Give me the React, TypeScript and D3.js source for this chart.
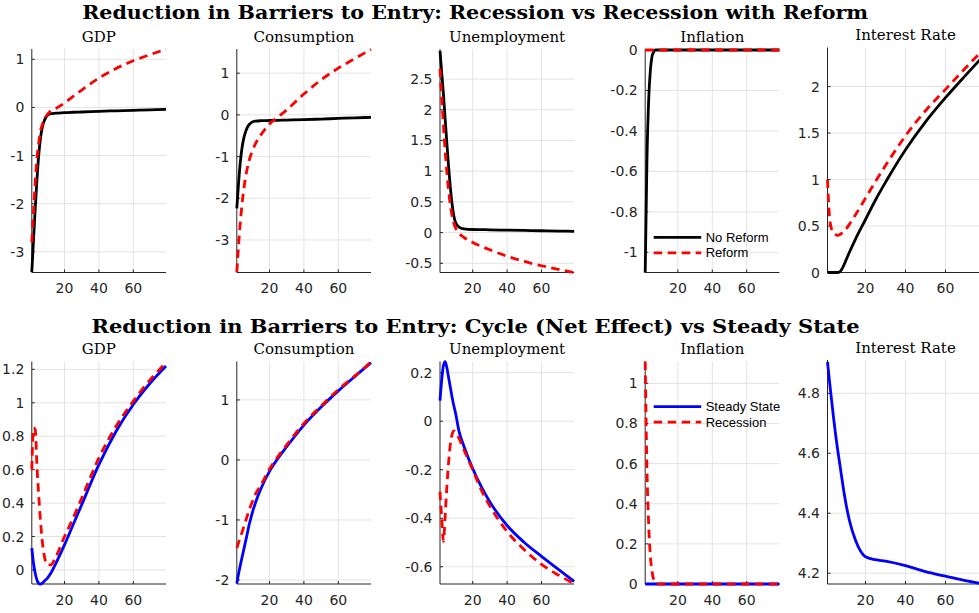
import React from "react";
import * as d3 from "d3";

// ---------- data ----------
const T = [1, 2, 3, 4, 5, 6, 7, 8, 9, 10, 12, 15, 20, 25, 30, 40, 50, 60, 70, 79];
const xDomain = [1, 79];
const xTicks = [20, 40, 60];

const mainTitles = [
  "Reduction in Barriers to Entry: Recession vs Recession with Reform",
  "Reduction in Barriers to Entry: Cycle (Net Effect) vs Steady State",
];
const panelTitles = ["GDP", "Consumption", "Unemployment", "Inflation", "Interest Rate"];

// top row: No Reform (black) vs Reform (red dashed)
const gdpNoReform = [-3.42, -2.75, -2.1, -1.5, -1.0, -0.65, -0.43, -0.3, -0.22, -0.17, -0.13, -0.12, -0.11, -0.1, -0.095, -0.08, -0.07, -0.06, -0.05, -0.04];
const gdpReform = [-2.8, -2.15, -1.55, -1.05, -0.75, -0.5, -0.37, -0.27, -0.2, -0.15, -0.07, -0.02, 0.09, 0.23, 0.36, 0.61, 0.81, 0.97, 1.1, 1.21];
const consNoReform = [-2.24, -1.65, -1.15, -0.8, -0.57, -0.42, -0.31, -0.24, -0.2, -0.17, -0.15, -0.14, -0.135, -0.13, -0.125, -0.115, -0.1, -0.085, -0.07, -0.06];
const consReform = [-3.77, -3.15, -2.6, -2.15, -1.8, -1.52, -1.3, -1.12, -0.98, -0.87, -0.68, -0.48, -0.22, -0.05, 0.12, 0.5, 0.84, 1.12, 1.36, 1.57];
const unempNoReform = [2.96, 2.6, 2.25, 1.85, 1.45, 1.07, 0.74, 0.47, 0.28, 0.17, 0.09, 0.06, 0.05, 0.048, 0.045, 0.04, 0.035, 0.03, 0.025, 0.02];
const unempReform = [2.67, 2.2, 1.75, 1.33, 0.98, 0.68, 0.45, 0.28, 0.16, 0.08, -0.01, -0.08, -0.16, -0.225, -0.28, -0.385, -0.47, -0.54, -0.6, -0.65];
const inflNoReform = [-1.1, -0.55, -0.25, -0.1, -0.03, -0.008, 0, 0, 0, 0, 0, 0, 0, 0, 0, 0, 0, 0, 0, 0];
const inflReform = [0, 0, 0, 0, 0, 0, 0, 0, 0, 0, 0, 0, 0, 0, 0, 0, 0, 0, 0, 0];
const rateNoReform = [0, 0, 0, 0, 0, 0, 0.005, 0.03, 0.07, 0.12, 0.22, 0.36, 0.57, 0.78, 0.97, 1.32, 1.62, 1.88, 2.12, 2.33];
const rateReform = [1.0, 0.6, 0.47, 0.43, 0.41, 0.4, 0.405, 0.42, 0.44, 0.46, 0.52, 0.62, 0.8, 0.98, 1.15, 1.47, 1.74, 1.97, 2.2, 2.4];

// bottom row: Steady State (blue) vs Recession (red dashed)
const gdpSteady = [0.13, 0.04, -0.02, -0.06, -0.08, -0.085, -0.08, -0.07, -0.06, -0.05, -0.02, 0.04, 0.15, 0.27, 0.39, 0.63, 0.83, 0.99, 1.12, 1.22];
const gdpRecession = [0.6, 0.85, 0.84, 0.62, 0.45, 0.3, 0.18, 0.1, 0.05, 0.03, 0.03, 0.08, 0.2, 0.31, 0.43, 0.67, 0.86, 1.01, 1.14, 1.24];
const consSteady = [-2.06, -1.9, -1.76, -1.63, -1.5, -1.37, -1.24, -1.1, -0.99, -0.88, -0.7, -0.48, -0.19, 0.03, 0.22, 0.58, 0.88, 1.15, 1.4, 1.62];
const consRecession = [-1.47, -1.38, -1.3, -1.21, -1.12, -1.03, -0.94, -0.85, -0.77, -0.7, -0.56, -0.42, -0.15, 0.06, 0.25, 0.61, 0.9, 1.17, 1.41, 1.63];
const unempSteady = [0.085, 0.17, 0.23, 0.245, 0.22, 0.18, 0.14, 0.1, 0.065, 0.035, -0.04, -0.105, -0.195, -0.27, -0.333, -0.43, -0.5, -0.557, -0.612, -0.66];
const unempRecession = [-0.29, -0.4, -0.495, -0.39, -0.27, -0.17, -0.095, -0.055, -0.04, -0.045, -0.07, -0.12, -0.2, -0.283, -0.35, -0.455, -0.53, -0.59, -0.635, -0.67];
const inflSteady = [0, 0, 0, 0, 0, 0, 0, 0, 0, 0, 0, 0, 0, 0, 0, 0, 0, 0, 0, 0];
const inflRecession = [1.109, 0.58, 0.3, 0.14, 0.06, 0.02, 0.005, 0, 0, 0, 0, 0, 0, 0, 0, 0, 0, 0, 0, 0];
const rateSteady = [4.905, 4.84, 4.78, 4.72, 4.665, 4.615, 4.57, 4.525, 4.48, 4.44, 4.375, 4.31, 4.255, 4.245, 4.24, 4.225, 4.205, 4.19, 4.175, 4.164];

// axes limits and ticks
const topDomains = [[-3.43, 1.214], [-3.78, 1.58], [-0.65, 2.99], [-1.1, 0.005], [0, 2.42]];
const topTicks = [[-3, -2, -1, 0, 1], [-3, -2, -1, 0, 1], [-0.5, 0, 0.5, 1, 1.5, 2, 2.5], [-1, -0.8, -0.6, -0.4, -0.2, 0], [0, 0.5, 1, 1.5, 2]];
const botDomains = [[-0.084, 1.247], [-2.067, 1.64], [-0.671, 0.246], [0, 1.109], [4.164, 4.911]];
const botTicks = [[0, 0.2, 0.4, 0.6, 0.8, 1, 1.2], [-2, -1, 0, 1], [-0.6, -0.4, -0.2, 0, 0.2], [0, 0.2, 0.4, 0.6, 0.8, 1], [4.2, 4.4, 4.6, 4.8]];

const topLegend = ["No Reform", "Reform"];
const botLegend = ["Steady State", "Recession"];

// ---------- layout ----------
const W = 979;
const H = 613;
const panelX = [31.8, 236.8, 440, 645.2, 827.5];
const panelW = [134.2, 134.2, 134.2, 134.2, 156];
const rows = [
  { tops: [49, 49, 49, 49, 47.5], bottom: 272.5, titleY: 18.5 },
  { tops: [361.5, 361.5, 361.5, 361.5, 360], bottom: 584, titleY: 333 },
];

const BLACK = "#000000";
const RED = "#ff0000";
const BLUE = "#0000ff";
const GRID = "#e3e3e3";
const AXIS = "#262626";

type Series = { values: number[]; color: string; dashed: boolean };

const topSeries: Series[][] = [
  [{ values: gdpNoReform, color: BLACK, dashed: false }, { values: gdpReform, color: RED, dashed: true }],
  [{ values: consNoReform, color: BLACK, dashed: false }, { values: consReform, color: RED, dashed: true }],
  [{ values: unempNoReform, color: BLACK, dashed: false }, { values: unempReform, color: RED, dashed: true }],
  [{ values: inflNoReform, color: BLACK, dashed: false }, { values: inflReform, color: RED, dashed: true }],
  [{ values: rateNoReform, color: BLACK, dashed: false }, { values: rateReform, color: RED, dashed: true }],
];
const botSeries: Series[][] = [
  [{ values: gdpSteady, color: BLUE, dashed: false }, { values: gdpRecession, color: RED, dashed: true }],
  [{ values: consSteady, color: BLUE, dashed: false }, { values: consRecession, color: RED, dashed: true }],
  [{ values: unempSteady, color: BLUE, dashed: false }, { values: unempRecession, color: RED, dashed: true }],
  [{ values: inflSteady, color: BLUE, dashed: false }, { values: inflRecession, color: RED, dashed: true }],
  [{ values: rateSteady, color: BLUE, dashed: false }],
];

function Panel(props: {
  i: number;
  top: number;
  bottom: number;
  title: string;
  domain: number[];
  ticks: number[];
  series: Series[];
  legend?: { labels: string[]; colors: string[]; y0: number };
}) {
  const { i, top, bottom, title, domain, ticks, series, legend } = props;
  const x0 = panelX[i];
  const x1 = x0 + panelW[i];
  const xs = d3.scaleLinear().domain(xDomain).range([x0, x1]);
  const ys = d3.scaleLinear().domain(domain).range([bottom, top]);
  const line = d3
    .line<[number, number]>()
    .x((d) => xs(d[0]))
    .y((d) => ys(d[1]))
    .curve(d3.curveMonotoneX);
  const tick = 3;
  return (
    <g>
      <text
        x={(x0 + x1) / 2}
        y={top - 7.5}
        textAnchor="middle"
        fontFamily="DejaVu Serif"
        fontSize={15}
        fill="#000"
      >
        {title}
      </text>
      {/* grid */}
      {xTicks.map((t) => (
        <line key={"gx" + t} x1={xs(t)} x2={xs(t)} y1={top} y2={bottom} stroke={GRID} strokeWidth={1} />
      ))}
      {ticks.map((t) => (
        <line key={"gy" + t} x1={x0} x2={x1} y1={ys(t)} y2={ys(t)} stroke={GRID} strokeWidth={1} />
      ))}
      {/* axes */}
      <line x1={x0} x2={x0} y1={top} y2={bottom} stroke={AXIS} strokeWidth={1} />
      <line x1={x0} x2={x1} y1={bottom} y2={bottom} stroke={AXIS} strokeWidth={1} />
      {xTicks.map((t) => (
        <g key={"tx" + t}>
          <line x1={xs(t)} x2={xs(t)} y1={bottom} y2={bottom - tick} stroke={AXIS} strokeWidth={1} />
          <text
            x={xs(t)}
            y={bottom + 20.5}
            textAnchor="middle"
            fontFamily="DejaVu Sans"
            fontSize={14}
            fill={AXIS}
          >
            {t}
          </text>
        </g>
      ))}
      {ticks.map((t) => (
        <g key={"ty" + t}>
          <line x1={x0} x2={x0 + tick} y1={ys(t)} y2={ys(t)} stroke={AXIS} strokeWidth={1} />
          <text
            x={x0 - 7.5}
            y={ys(t) + 5}
            textAnchor="end"
            fontFamily="DejaVu Sans"
            fontSize={14}
            fill={AXIS}
          >
            {String(t)}
          </text>
        </g>
      ))}
      {/* series */}
      {series.map((s, k) => (
        <path
          key={"s" + k}
          d={line(T.map((t, j) => [t, s.values[j]] as [number, number])) || ""}
          fill="none"
          stroke={s.color}
          strokeWidth={2.8}
          strokeDasharray={s.dashed ? "8.5,5.5" : undefined}
          strokeLinejoin="round"
        />
      ))}
      {legend &&
        legend.labels.map((lab, k) => {
          const ly = legend.y0 + k * 15.5;
          return (
            <g key={"lg" + k}>
              <line
                x1={x0 + 8.5}
                x2={x0 + 56}
                y1={ly}
                y2={ly}
                stroke={legend.colors[k]}
                strokeWidth={2.8}
                strokeDasharray={k === 1 ? "8.5,5.5" : undefined}
              />
              <text x={x0 + 60.5} y={ly + 4.6} fontFamily="Liberation Sans" fontSize={13} fill="#000">
                {lab}
              </text>
            </g>
          );
        })}
    </g>
  );
}

export default function App() {
  return (
    <svg
      width={W}
      height={H}
      style={{ position: "absolute", left: 0, top: 0, background: "#fff" }}
      xmlns="http://www.w3.org/2000/svg"
    >
      <rect x={0} y={0} width={W} height={H} fill="#fff" />
      <text
        x={475.2}
        y={rows[0].titleY}
        textAnchor="middle"
        fontFamily="DejaVu Serif"
        fontWeight="bold"
        fontSize={18.5}
        textLength={786}
        lengthAdjust="spacingAndGlyphs"
      >
        {mainTitles[0]}
      </text>
      <text
        x={475.5}
        y={rows[1].titleY}
        textAnchor="middle"
        fontFamily="DejaVu Serif"
        fontWeight="bold"
        fontSize={18.5}
        textLength={768}
        lengthAdjust="spacingAndGlyphs"
      >
        {mainTitles[1]}
      </text>
      {panelTitles.map((title, i) => (
        <Panel
          key={"t" + i}
          i={i}
          top={rows[0].tops[i]}
          bottom={rows[0].bottom}
          title={title}
          domain={topDomains[i]}
          ticks={topTicks[i]}
          series={topSeries[i]}
          legend={i === 3 ? { labels: topLegend, colors: [BLACK, RED], y0: 237.3 } : undefined}
        />
      ))}
      {panelTitles.map((title, i) => (
        <Panel
          key={"b" + i}
          i={i}
          top={rows[1].tops[i]}
          bottom={rows[1].bottom}
          title={title}
          domain={botDomains[i]}
          ticks={botTicks[i]}
          series={botSeries[i]}
          legend={i === 3 ? { labels: botLegend, colors: [BLUE, RED], y0: 406.7 } : undefined}
        />
      ))}
    </svg>
  );
}
